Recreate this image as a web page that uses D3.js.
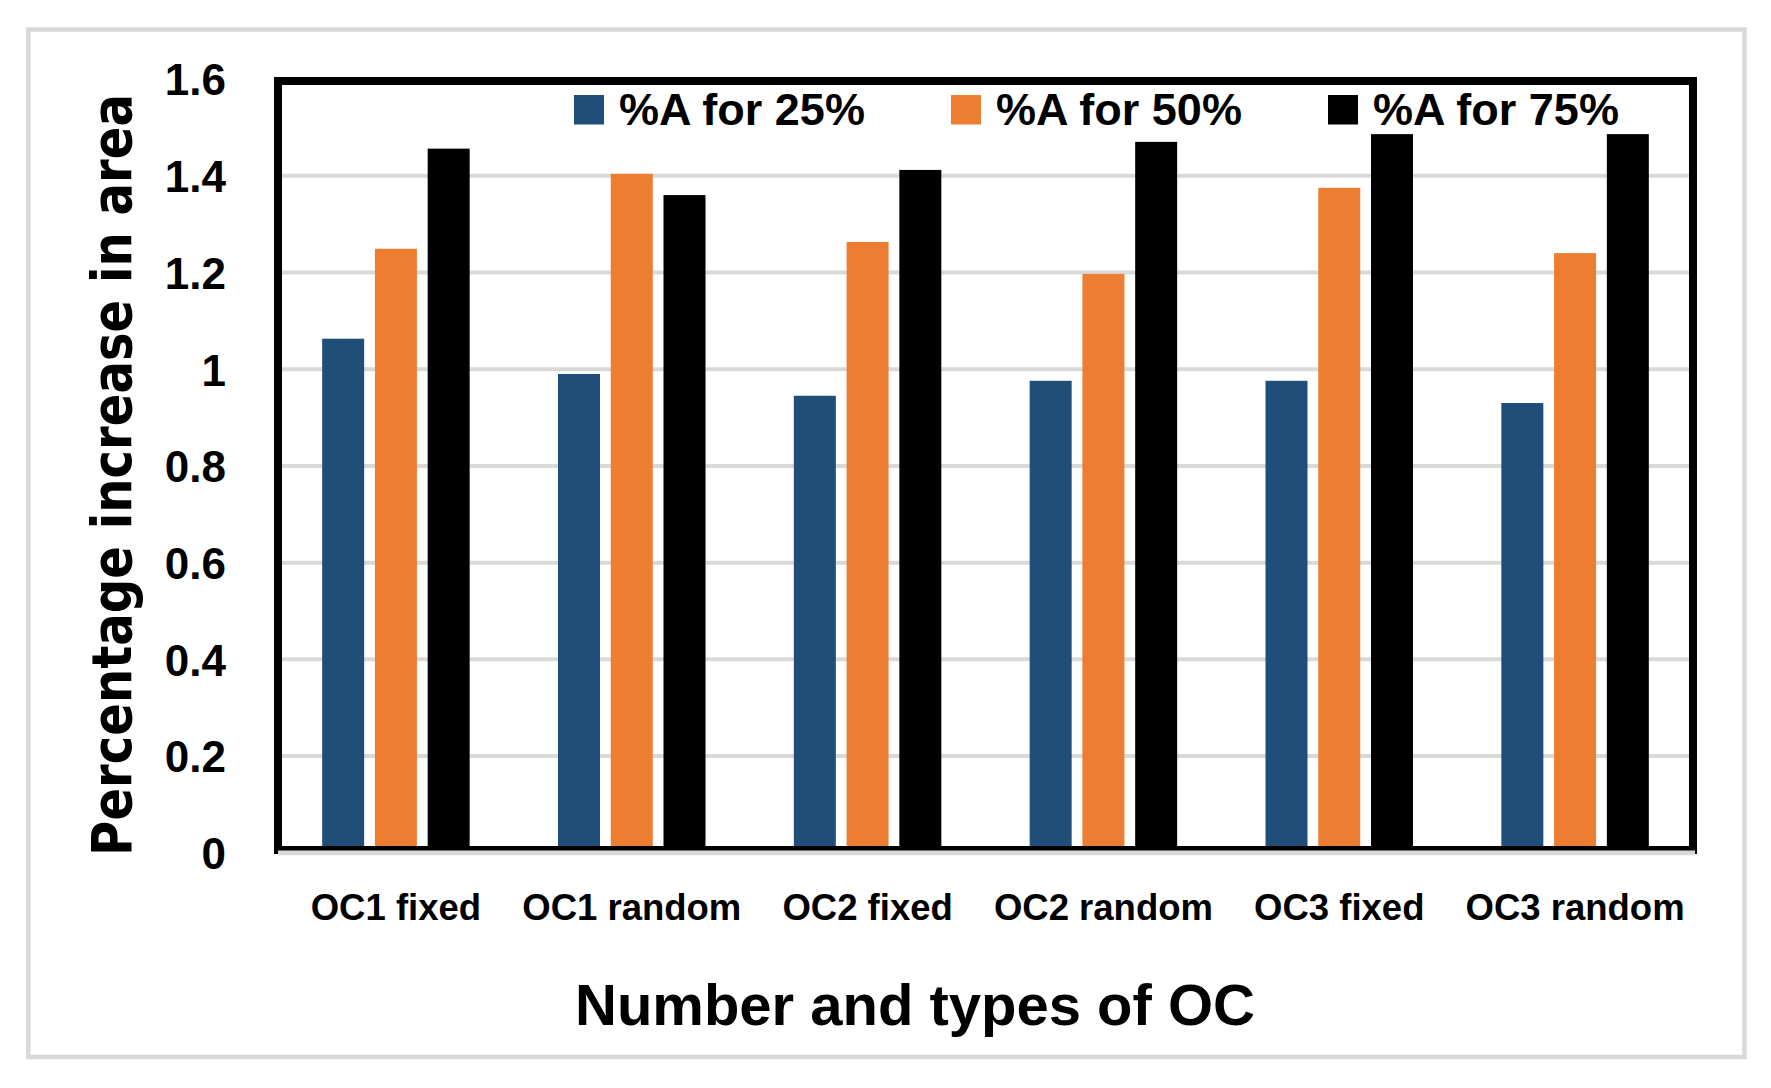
<!DOCTYPE html>
<html>
<head>
<meta charset="utf-8">
<script src="https://cdn.jsdelivr.net/npm/d3@7"></script>
<style>
  html, body { margin: 0; padding: 0; background: #fff; }
  svg { display: block; }
  text { font-family: "Liberation Sans", Arial, sans-serif; font-weight: bold; fill: #000; }
</style>
</head>
<body>
<svg id="chart" width="1771" height="1088"></svg>
<script>
// ---- data ----
const categories = ["OC1 fixed", "OC1 random", "OC2 fixed", "OC2 random", "OC3 fixed", "OC3 random"];
const seriesNames = ["%A for 25%", "%A for 50%", "%A for 75%"];
const values25 = [1.063, 0.990, 0.945, 0.976, 0.976, 0.930];
const values50 = [1.249, 1.404, 1.263, 1.197, 1.375, 1.240];
const values75 = [1.456, 1.360, 1.412, 1.470, 1.486, 1.486];
const yTicks = [0, 0.2, 0.4, 0.6, 0.8, 1.0, 1.2, 1.4, 1.6];
const yTickLabels = ["0", "0.2", "0.4", "0.6", "0.8", "1", "1.2", "1.4", "1.6"];
const yTitle = "Percentage increase in area";
const xTitle = "Number and types of OC";

const colors = ["#1f4e79", "#ed7d31", "#000000"];
const seriesValues = [values25, values50, values75];

const svg = d3.select("#chart");

// outer chart frame
svg.append("rect")
  .attr("x", 28.3).attr("y", 29.5)
  .attr("width", 1744.5 - 28.3).attr("height", 1057 - 29.5)
  .attr("fill", "#fff").attr("stroke", "#d9d9d9").attr("stroke-width", 4.5);

const plot = { left: 278, right: 1693, top: 81, bottom: 850 };

const x0 = d3.scaleBand().domain(categories).range([plot.left, plot.right]).paddingInner(0).paddingOuter(0);
const bw = x0.bandwidth();
const x1 = d3.scaleBand().domain(seriesNames).range([bw * 0.1873, bw * 0.8127]).paddingInner(0.204);
const y = d3.scaleLinear().domain([0, 1.6]).range([852.8, 79]);

// gridlines
svg.append("g").selectAll("line")
  .data(yTicks.filter(t => t > 0))
  .join("line")
  .attr("x1", plot.left).attr("x2", plot.right)
  .attr("y1", d => y(d)).attr("y2", d => y(d))
  .attr("stroke", "#d9d9d9").attr("stroke-width", 4);

// bars
const rows = categories.map((c, i) => ({ cat: c, vals: seriesNames.map((s, j) => ({ s, j, v: seriesValues[j][i] })) }));
svg.append("g").selectAll("g")
  .data(rows)
  .join("g")
  .attr("transform", d => `translate(${x0(d.cat)},0)`)
  .selectAll("rect")
  .data(d => d.vals)
  .join("rect")
  .attr("x", d => x1(d.s))
  .attr("width", x1.bandwidth())
  .attr("y", d => y(d.v))
  .attr("height", d => y(0) - y(d.v))
  .attr("fill", d => colors[d.j]);

// plot area frame
svg.append("rect")
  .attr("x", plot.left).attr("y", plot.top)
  .attr("width", plot.right - plot.left).attr("height", plot.bottom - plot.top)
  .attr("fill", "none").attr("stroke", "#000").attr("stroke-width", 8);

// horizontal axis line (gray)
svg.append("line")
  .attr("x1", plot.left).attr("x2", plot.right + 2)
  .attr("y1", y(0)).attr("y2", y(0))
  .attr("stroke", "#d9d9d9").attr("stroke-width", 4.7);

// y axis labels
const yAxis = d3.axisLeft(y).tickValues(yTicks).tickSize(0).tickPadding(52)
  .tickFormat((d, i) => yTickLabels[i]);
const gy = svg.append("g").attr("transform", `translate(${plot.left},0)`).call(yAxis);
gy.select(".domain").remove();
gy.selectAll("text")
  .style("font-family", '"Liberation Sans", Arial, sans-serif')
  .style("font-weight", "bold")
  .attr("font-size", 44).attr("fill", "#000").attr("dy", "0.36em");

// x axis category labels
const xAxis = d3.axisBottom(x0).tickSize(0).tickPadding(0);
const gx = svg.append("g").call(xAxis);
gx.select(".domain").remove();
gx.selectAll("text")
  .style("font-family", '"Liberation Sans", Arial, sans-serif')
  .style("font-weight", "bold")
  .attr("font-size", 36.5).attr("fill", "#000")
  .attr("y", 920).attr("dy", 0);

// y title (horizontally condensed to match the reference)
svg.append("text")
  .attr("transform", "translate(131,475) rotate(-90) scale(0.86,1)")
  .attr("text-anchor", "middle")
  .style("font-family", '"DejaVu Sans", sans-serif')
  .attr("font-size", 56)
  .text(yTitle);

// x title
svg.append("text")
  .attr("x", 915).attr("y", 1025)
  .attr("text-anchor", "middle")
  .attr("font-size", 58)
  .text(xTitle);

// legend
const legend = svg.append("g").selectAll("g")
  .data(seriesNames)
  .join("g")
  .attr("transform", (d, i) => `translate(${574 + i * 377},0)`);
legend.append("rect")
  .attr("x", 0).attr("y", 95).attr("width", 30).attr("height", 29.5)
  .attr("fill", (d, i) => colors[i]);
legend.append("text")
  .attr("x", 45).attr("y", 124.5)
  .attr("font-size", 45)
  .text(d => d);
</script>
</body>
</html>
